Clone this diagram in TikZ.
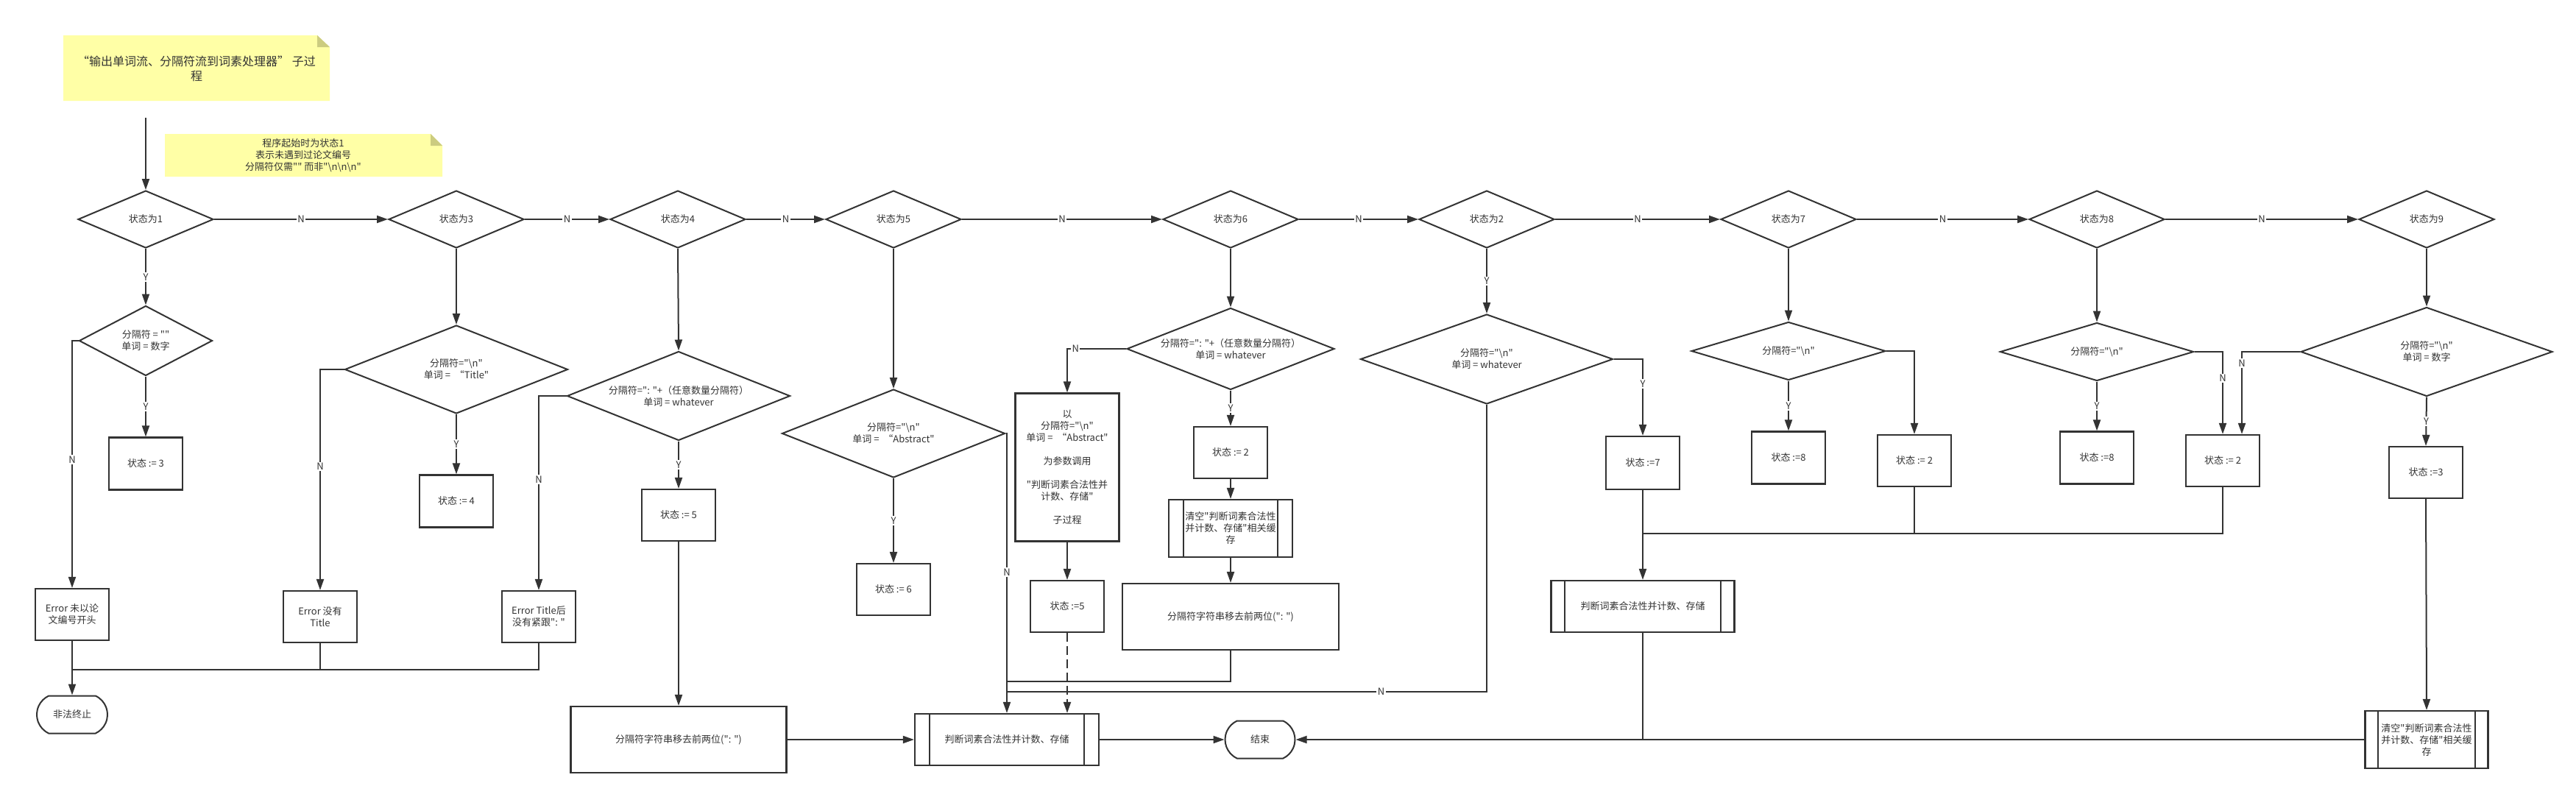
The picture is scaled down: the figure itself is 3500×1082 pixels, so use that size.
\documentclass[tikz,border=0pt]{standalone}
\usepackage{fontspec}
\setmainfont{Noto Sans CJK SC}[Ligatures=TeXOff]
\usetikzlibrary{shapes.geometric,shapes.misc,arrows.meta,calc}
\definecolor{lc}{RGB}{51,51,51}
\definecolor{notefill}{RGB}{255,255,166}
\definecolor{notefold}{RGB}{204,204,128}
\newcommand{\bs}{\textbackslash}
\begin{document}
\begin{tikzpicture}[x=1pt,y=-1pt,
  every node/.style={font=\fontsize{13pt}{16pt}\selectfont, text=lc},
  box/.style={draw=lc, line width=2.2pt, rectangle, minimum width=100pt, minimum height=71pt, align=center, inner sep=2pt},
  dia/.style={draw=lc, line width=2pt, diamond, inner sep=0pt, align=center},
  dsz/.style n args={3}{minimum width=#1pt, minimum height=#2pt, shape aspect=#3},
  term/.style={draw=lc, line width=2pt, rounded rectangle, rounded rectangle arc length=130, minimum width=100pt, minimum height=51pt, inner sep=2pt},
  lbl/.style={fill=white, inner sep=1.5pt},
  arr/.style={draw=lc, line width=2pt, -{Triangle[length=15pt,width=10pt]}},
  ln/.style={draw=lc, line width=1.8pt},
  inner/.style={draw=lc, line width=2pt},
]
\useasboundingbox (0,0) rectangle (3500,1082);
\fill[white] (0,0) rectangle (3500,1082);

% notes
\fill[notefill] (86,48) -- (431,48) -- (448,64) -- (448,137) -- (86,137) -- cycle;
\fill[notefold] (431,48) -- (431,64) -- (448,64) -- cycle;
\node[font=\fontsize{16pt}{20pt}\selectfont, align=center] (title) at (267,93) {“输出单词流、分隔符流到词素处理器” 子过\\程};
\fill[notefill] (224,182) -- (585,182) -- (601,198) -- (601,240) -- (224,240) -- cycle;
\fill[notefold] (585,182) -- (585,198) -- (601,198) -- cycle;
\node[align=center] (note) at (412,211) {程序起始时为状态1\\表示未遇到过论文编号\\分隔符仅需"" 而非"\bs n\bs n\bs n"};

\coordinate (start) at (198,160);

% main diamonds
\node[dia, dsz={184}{78}{2.36}] (d1) at (198,298) {状态为1};
\node[dia, dsz={184}{78}{2.36}] (d3) at (620,298) {状态为3};
\node[dia, dsz={184}{78}{2.36}] (d4) at (921,298) {状态为4};
\node[dia, dsz={184}{78}{2.36}] (d5) at (1214,298) {状态为5};
\node[dia, dsz={184}{78}{2.36}] (d6) at (1672,298) {状态为6};
\node[dia, dsz={184}{78}{2.36}] (d2) at (2020,298) {状态为2};
\node[dia, dsz={184}{78}{2.36}] (d7) at (2430,298) {状态为7};
\node[dia, dsz={184}{78}{2.36}] (d8) at (2849,298) {状态为8};
\node[dia, dsz={184}{78}{2.36}] (d9) at (3297,298) {状态为9};

% sub diamonds
\node[dia, dsz={181}{95}{1.9}] (s1) at (198,463) {分隔符 = ""\\单词 = 数字};
\node[dia, dsz={303}{120}{2.52}] (s3) at (620,502) {分隔符="\bs n"\\单词 = \ “Title"};
\node[dia, dsz={303}{121}{2.5}] (s4) at (922,538) {分隔符=": "+（任意数量分隔符）\\单词 = whatever};
\node[dia, dsz={303}{120}{2.52}] (s5) at (1214,589) {分隔符="\bs n"\\单词 = \ “Abstract"};
\node[dia, dsz={282}{111}{2.54}] (s6) at (1672,474) {分隔符=": "+（任意数量分隔符）\\单词 = whatever};
\node[dia, dsz={343}{122}{2.81}] (s2) at (2020,488) {分隔符="\bs n"\\单词 = whatever};
\node[dia, dsz={264}{79}{3.34}] (s7) at (2430,477) {分隔符="\bs n"};
\node[dia, dsz={263}{79}{3.33}] (s8) at (2849,478) {分隔符="\bs n"};
\node[dia, dsz={342}{121}{2.83}] (s9) at (3297,478) {分隔符="\bs n"\\单词 = 数字};

% boxes
\node[box] (b1) at (198,630) {状态 := 3};
\node[box, minimum height=70pt] (e1) at (98,835) {Error 未以论\\文编号开头};
\node[box, minimum height=70pt] (e2) at (435,838) {Error 没有\\Title};
\node[box] (b3) at (620,681) {状态 := 4};
\node[box, minimum height=70pt] (e3) at (732,838) {Error Title后\\没有紧跟": "};
\node[term] (stop) at (98,971) {非法终止};
\node[box, minimum height=70pt] (b4) at (922,700) {状态 := 5};
\node[box, minimum width=293pt, minimum height=90pt] (m1) at (922,1005) {分隔符字符串移去前两位(": ")};
\node[box, minimum height=70pt] (b5) at (1214,801) {状态 := 6};
\node[box, minimum width=250pt, minimum height=70pt] (p1) at (1368,1005) {判断词素合法性并计数、存储};
\draw[inner] ([xshift=21pt]p1.north west) -- ([xshift=21pt]p1.south west) ([xshift=-21pt]p1.north east) -- ([xshift=-21pt]p1.south east);
\node[term, minimum width=99pt] (end) at (1712,1005) {结束};
\node[box, minimum width=141pt, minimum height=201pt] (y6) at (1450,635) {以\\分隔符="\bs n"\\单词 = \ “Abstract"\\[16pt]为参数调用\\[16pt]"判断词素合法性并\\计数、存储"\\[16pt]子过程};
\node[box, minimum height=70pt] (b6) at (1450,824) {状态 :=5};
\node[box, minimum height=70pt] (b7) at (1672,615) {状态 := 2};
\node[box, minimum width=168pt, minimum height=78pt, inner sep=0pt] (c1) at (1672,718) {清空"判断词素合法性\\并计数、存储"相关缓\\存};
\draw[inner] ([xshift=21pt]c1.north west) -- ([xshift=21pt]c1.south west) ([xshift=-21pt]c1.north east) -- ([xshift=-21pt]c1.south east);
\node[box, minimum width=294pt, minimum height=90pt] (m2) at (1672,838) {分隔符字符串移去前两位(": ")};
\node[box, minimum height=72pt] (b8) at (2232,629) {状态 :=7};
\node[box, minimum width=249pt, minimum height=70pt] (p2) at (2232,824) {判断词素合法性并计数、存储};
\draw[inner] ([xshift=20pt]p2.north west) -- ([xshift=20pt]p2.south west) ([xshift=-20pt]p2.north east) -- ([xshift=-20pt]p2.south east);
\node[box] (b9) at (2430,622) {状态 :=8};
\node[box, minimum height=70pt] (b10) at (2601,626) {状态 := 2};
\node[box] (b11) at (2849,622) {状态 :=8};
\node[box, minimum height=70pt] (b12) at (3020,626) {状态 := 2};
\node[box, minimum height=70pt] (b13) at (3296,642) {状态 :=3};
\node[box, minimum width=167pt, minimum height=78pt, inner sep=0pt] (c2) at (3297,1005) {清空"判断词素合法性\\并计数、存储"相关缓\\存};
\draw[inner] ([xshift=19pt]c2.north west) -- ([xshift=19pt]c2.south west) ([xshift=-19pt]c2.north east) -- ([xshift=-19pt]c2.south east);

% junction coordinates
\coordinate (j1) at (98,910);
\coordinate (j2) at (1368,926);
\coordinate (j3) at (1368,940);
\coordinate (j4) at (2232,725);

% main chain
\draw[arr] (start) -- (d1.north);
\draw[arr] (d1.east) -- (d3.west) node[lbl,midway]{N};
\draw[arr] (d3.east) -- (d4.west) node[lbl,midway]{N};
\draw[arr] (d4.east) -- (d5.west) node[lbl,midway]{N};
\draw[arr] (d5.east) -- (d6.west) node[lbl,midway]{N};
\draw[arr] (d6.east) -- (d2.west) node[lbl,midway]{N};
\draw[arr] (d2.east) -- (d7.west) node[lbl,midway]{N};
\draw[arr] (d7.east) -- (d8.west) node[lbl,midway]{N};
\draw[arr] (d8.east) -- (d9.west) node[lbl,midway]{N};

% state 1
\draw[arr] (d1.south) -- (s1.north) node[lbl,midway]{Y};
\draw[arr] (s1.south) -- (b1.north) node[lbl,midway]{Y};
\draw[arr] (s1.west) -| (e1.north) node[lbl,pos=0.74]{N};
% state 3
\draw[arr] (d3.south) -- (s3.north);
\draw[arr] (s3.south) -- (b3.north) node[lbl,midway]{Y};
\draw[arr] (s3.west) -| (e2.north) node[lbl,pos=0.72]{N};
% state 4
\draw[arr] (d4.south) -- (s4.north);
\draw[arr] (s4.south) -- (b4.north) node[lbl,midway]{Y};
\draw[arr] (s4.west) -| (e3.north) node[lbl,pos=0.715]{N};
\draw[arr] (b4.south) -- (m1.north);
% errors
\draw[ln] (e2.south) |- (j1);
\draw[ln] (e3.south) |- (j1);
\draw[arr] (e1.south) -- (stop.north);
% state 5
\draw[arr] (d5.south) -- (s5.north);
\draw[arr] (s5.south) -- (b5.north) node[lbl,midway]{Y};
\draw[arr] (s5.east) -| (p1.north) node[lbl,pos=0.748]{N};
% bottom
\draw[arr] (m1.east) -- (p1.west);
\draw[arr] (p1.east) -- (end.west);
% state 6
\draw[arr] (d6.south) -- (s6.north);
\draw[arr] (s6.west) -| (y6.north) node[lbl,pos=0.43]{N};
\draw[arr] (y6.south) -- (b6.north);
\draw[arr, dashed, dash pattern=on 12pt off 6pt] (b6.south) -- (b6.south |- p1.north);
\draw[arr] (s6.south) -- (b7.north) node[lbl,midway]{Y};
\draw[arr] (b7.south) -- (c1.north);
\draw[arr] (c1.south) -- (m2.north);
\draw[ln] (m2.south) |- (j2);
% state 2
\draw[arr] (d2.south) -- (s2.north) node[lbl,midway]{Y};
\draw[ln] (s2.south) |- (j3) node[lbl,pos=0.61]{N};
\draw[arr] (s2.east) -| (b8.north) node[lbl,pos=0.66]{Y};
\draw[arr] (b8.south) -- (p2.north);
\draw[ln] (p2.south) -- (p2.south |- end.east);
% state 7
\draw[arr] (d7.south) -- (s7.north);
\draw[arr] (s7.south) -- (b9.north) node[lbl,midway]{Y};
\draw[arr] (s7.east) -| (b10.north);
\draw[ln] (b10.south) |- (j4);
% state 8
\draw[arr] (d8.south) -- (s8.north);
\draw[arr] (s8.south) -- (b11.north) node[lbl,midway]{Y};
\draw[arr] (s8.east) -| (b12.north) node[lbl,pos=0.66]{N};
\draw[ln] (b12.south) |- (j4);
% state 9
\draw[arr] (d9.south) -- (s9.north);
\draw[arr] (s9.south) -- (b13.north) node[lbl,midway]{Y};
\draw[arr] (s9.west) -| ([xshift=26pt]b12.north) node[lbl,pos=0.57]{N};
\draw[arr] (b13.south) -- (c2.north);
\draw[arr] (c2.west) -- (end.east);
\end{tikzpicture}
\end{document}
